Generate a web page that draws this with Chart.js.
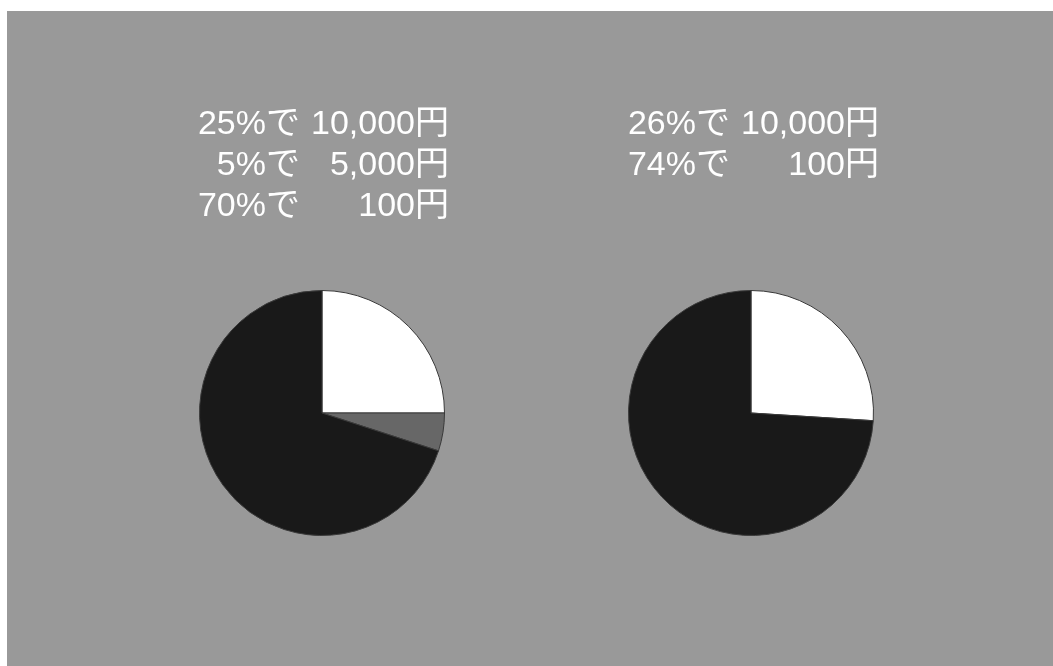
<!DOCTYPE html>
<html>
<head>
<meta charset="UTF-8">
<title>くじの比較</title>
<script src="https://cdn.jsdelivr.net/npm/chart.js@4"></script>
<style>
    html, body { margin: 0; padding: 0; background: #ffffff; }
    #stage { position: absolute; left: 7px; top: 11px; width: 1046px; height: 655px; background: #999999; }
    canvas { position: absolute; left: 0; top: 0; }
</style>
</head>
<body>
<div id="stage"></div>
<canvas id="kujiA" width="1053" height="666"></canvas>
<canvas id="kujiB" width="1053" height="666"></canvas>
<script>
    // くじA: 確率(%) と 賞金
    var sharesA = [25, 5, 70];
    var prizesA = ['10,000', '5,000', '100'];
    // くじB
    var sharesB = [26, 74];
    var prizesB = ['10,000', '100'];

    var colorsA = ['#ffffff', '#676767', '#191919'];
    var colorsB = ['#ffffff', '#191919'];

    // 円グラフの上に「xx%で yy円」を二段組みで書く
    var oddsText = {
        id: 'oddsText',
        afterDraw: function (chart, args, opts) {
            var ctx = chart.ctx;
            var shares = chart.data.datasets[0].data;
            var prizes = opts.prizes;
            ctx.save();
            ctx.fillStyle = '#ffffff';
            ctx.font = '34px "Liberation Sans", "Noto Sans CJK JP", sans-serif';
            ctx.textAlign = 'right';
            ctx.textBaseline = 'alphabetic';
            for (var i = 0; i < shares.length; i++) {
                var y = opts.baseline + i * opts.step;
                ctx.fillText(shares[i] + '%で', opts.pctRight, y);
                ctx.fillText(prizes[i] + '円', opts.amtRight, y);
            }
            ctx.restore();
        }
    };

    function makePie(id, shares, prizes, colors, pad, text) {
        var labels = [];
        for (var i = 0; i < shares.length; i++) {
            labels.push(shares[i] + '%で' + prizes[i] + '円');
        }
        text.prizes = prizes;
        return new Chart(document.getElementById(id), {
            type: 'pie',
            data: {
                labels: labels,
                datasets: [{
                    data: shares,
                    backgroundColor: colors,
                    borderColor: '#3a3a3a',
                    borderWidth: 1
                }]
            },
            options: {
                responsive: false,
                animation: false,
                layout: { padding: pad },
                plugins: {
                    legend: { display: false },
                    tooltip: { enabled: false },
                    oddsText: text
                }
            },
            plugins: [oddsText]
        });
    }

    makePie('kujiA', sharesA, prizesA, colorsA,
        { left: 199, right: 608, top: 290, bottom: 130 },
        { pctRight: 300, amtRight: 449, baseline: 134, step: 41 });

    makePie('kujiB', sharesB, prizesB, colorsB,
        { left: 628, right: 179, top: 290, bottom: 130 },
        { pctRight: 730, amtRight: 879, baseline: 134, step: 41 });
</script>
</body>
</html>
